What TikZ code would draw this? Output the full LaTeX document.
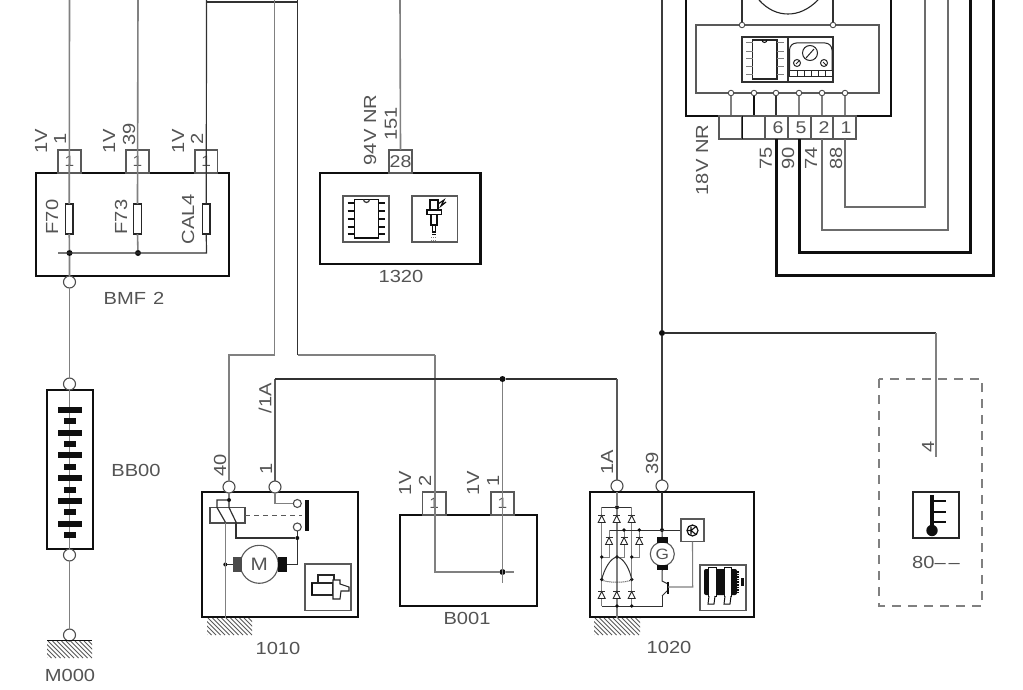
\documentclass[tikz,border=0pt]{standalone}
\usepackage{fontspec}
\setmainfont[FakeStretch=1.15]{Liberation Sans}
\definecolor{ink}{gray}{0.06}
\definecolor{wire}{gray}{0.5}
\definecolor{txt}{gray}{0.33}
\tikzset{
  frame/.style={draw=ink,line width=2.4pt,inner sep=0pt,outer sep=0pt},
  subbox/.style={draw=wire!70!black,line width=1.1pt,inner sep=0pt,outer sep=0pt},
  pinbox/.style={draw=wire!70!black,fill=white,line width=1.1pt,inner sep=0pt,outer sep=0pt,text=txt,font=\fontsize{15}{15}\selectfont},
  terminal/.style={circle,draw=wire!60!black,fill=white,line width=1.1pt,minimum size=12pt,inner sep=0pt,outer sep=0pt},
  tiny/.style={circle,draw=wire!60!black,fill=white,line width=.9pt,minimum size=5.5pt,inner sep=0pt,outer sep=0pt},
  contact/.style={circle,draw=wire!60!black,fill=white,line width=1.1pt,minimum size=8pt,inner sep=0pt,outer sep=0pt},
  graywire/.style={draw=wire,line width=1.6pt},
  blackwire/.style={draw=ink!70!wire,line width=1.2pt},
  heavywire/.style={draw=ink,line width=3pt},
  solder/.style={circle,fill=ink,inner sep=0pt,minimum size=#1,outer sep=0pt},
  solder/.default=6pt,
  lbl/.style={text=txt,inner sep=0pt,font=\fontsize{17.5}{18}\selectfont},
  vlbl/.style={lbl,rotate=90},
  hatching/.style={draw=wire!70!black,line width=1pt},
  solidpart/.style={fill=ink,draw=none,inner sep=0pt,outer sep=0pt},
  diode/.style={draw=ink!80!wire,line width=.9pt,fill=white},
}
\newcommand{\bx}[6]{\node[#6,minimum width={(#4-#2)*1pt},minimum height={(#5-#3)*1pt}] (#1) at ({(#2+#4)/2},{(#3+#5)/2}) {};}
\newcommand{\pinb}[6]{\node[pinbox,minimum width={(#4-#2)*1pt},minimum height={(#5-#3)*1pt}] (#1) at ({(#2+#4)/2},{(#3+#5)/2}) {#6};}
\newcommand{\dio}[2]{\draw[diode] (#1-3.5,#2+3.5) -- (#1+3.5,#2+3.5) -- (#1,#2-3.5) -- cycle; \draw[blackwire,line width=.9pt] (#1-3.5,#2-3.5) -- (#1+3.5,#2-3.5);}
% hatch: left edge, right edge, top
\newcommand{\hatchrow}[3]{\begin{scope}\clip (#1,#3) rectangle (#2,#3+17);\foreach \i in {0,4.5,...,72}{\draw[hatching] (#1-17+\i,#3) -- (#1+\i,#3+17);}\end{scope}}
\begin{document}
\begin{tikzpicture}[x=1pt,y=-1pt]
\useasboundingbox[fill=white] (0,0) rectangle (1023,690);

% free ends at the top edge
\foreach \n/\x in {t1/69.5,t2/138,t3/206.5,t4/274.5,t5/297.7,t6/400,t7/662,t8/924.7,t9/947.7,t10/970,t11/993,t12/686,t13/891,t14/742,t15/833}{\coordinate (\n) at (\x,0);}

% === BMF 2
\bx{bmf}{36}{173}{229}{276}{frame}
\pinb{bp1}{58}{150}{81}{173}{1}
\pinb{bp2}{126}{150}{149}{173}{1}
\pinb{bp3}{195}{150}{217.5}{173}{1}
\bx{f70}{65.5}{204}{73}{234}{subbox,draw=ink!80!wire,fill=white}
\bx{f73}{133.5}{204}{141.5}{234}{subbox,draw=ink!80!wire,fill=white}
\bx{cal}{202.5}{204}{210}{234}{subbox,draw=ink!80!wire,fill=white}
\node[solder] (d1) at (69.5,253) {};
\node[solder] (d2) at (138,253) {};
\coordinate (d0) at (58,253);
\coordinate (d3) at (206.5,253);
\node[terminal] (bmfout) at (69.5,282) {};
\draw[graywire] (t1) -- (f70.north);
\draw[graywire] (f70.south) -- (d1) -- (bmfout);
\draw[graywire] (t2) -- (f73.north);
\draw[graywire] (f73.south) -- (d2);
\draw[blackwire] (t3) -- (cal.north);
\draw[blackwire] (cal.south) -- (d3) -- (d0);
\coordinate (c1) at (206.5,2);
\coordinate (c2) at (297.7,2);
\draw[blackwire] (c1) -- (c2) -- (t5);

% === BB00
\bx{bb}{47}{389.5}{93}{549}{frame,line width=2pt}
\node[terminal] (bbt) at (69.5,384) {};
\node[terminal] (bbb) at (69.5,555) {};
\draw[graywire] (bmfout) -- (bbt);
\draw[graywire] (bbt) -- (bbb);
\foreach \yy in {410,433,455,478,501,524}{\node[solidpart,minimum width=24pt,minimum height=6.5pt] at (69.5,\yy) {};}
\foreach \yy in {421,444,467,490,512,535}{\node[solidpart,minimum width=12pt,minimum height=6.5pt] at (69.5,\yy) {};}

% === M000
\node[terminal] (gnd) at (69.5,635) {};
\coordinate (g1) at (47,640.5);
\coordinate (g2) at (92,640.5);
\draw[graywire] (bbb) -- (gnd);
\draw[draw=ink,line width=1.1pt] (g1) -- (g2);
\hatchrow{47}{92}{641}

% === 1320
\bx{ecu}{320}{173}{480.5}{264}{frame}
\pinb{ep}{389}{150}{412}{173}{}
\node[lbl,font=\fontsize{17}{17}\selectfont] (ep28) at (400.5,162) {28};
\draw[graywire] (t6) -- (ep.north);
\bx{ic1}{343}{196}{389}{242}{subbox}
\bx{ic2}{412}{196}{457.5}{242}{subbox}
\bx{chipa}{354.5}{199.5}{378.5}{238}{frame,line width=1.9pt}
\foreach \yy in {203,211,219,227,234}{
  \draw[draw=ink,line width=1.9pt] (347.5,\yy) -- (354.5,\yy) (378.5,\yy) -- (385,\yy);}
\draw[blackwire] (363.5,199.5) arc[start angle=180,end angle=360,radius=3pt];
% injector
\draw[draw=ink,line width=1.4pt,fill=white] (430,200) rectangle (438,210);
\draw[draw=ink,line width=1.4pt,fill=white] (427,210) rectangle (441.5,214.5);
\draw[draw=ink,line width=1.4pt,fill=white] (431,214.5) rectangle (437,225);
\draw[draw=ink,line width=1.4pt,fill=white] (432.5,225) rectangle (435.5,232);
\draw[draw=ink,line width=1.2pt] (438,204) -- (444,200) -- (441,206) -- (446,202);
\draw[draw=wire,line width=1pt,densely dotted] (431,237) -- (437,237) (431,240) -- (437,240);
\draw[draw=ink,line width=1pt] (432,234.5) -- (436,234.5);

% === 1010
\bx{st}{202}{492}{358}{617}{frame}
\node[terminal] (s40) at (229,487) {};
\node[terminal] (s1) at (275,487) {};
\coordinate (w1) at (274.5,355);
\coordinate (w2) at (229,355);
\draw[graywire] (t4) -- (w1) -- (w2) -- (s40);
\node[solder=4pt] (rel) at (229,500) {};
\draw[graywire] (s40) -- (rel);
\bx{coil}{210}{507.5}{245}{523}{subbox,draw=wire!60!black}
\draw[blackwire] (rel) -- (217,500) -- (217,507.5) -- (225.3,522);
\draw[blackwire] (rel) -- (229,507.5) -- (236,522);
\node[contact] (c_a) at (297.3,503.5) {};
\node[contact] (c_b) at (297.3,527) {};
\node[solder=4pt] (rj) at (297.3,538) {};
\coordinate (rk) at (236,538);
\draw[blackwire] (236,522) -- (rk) -- (rj);
\draw[blackwire] (rj) -- (c_b);
\coordinate (sa) at (275,503.5);
\draw[graywire,line width=1.3pt] (s1) -- (sa) -- (c_a);
\node[solidpart,minimum width=4.5pt,minimum height=31pt] (bar) at (307,515.5) {};
\draw[dash pattern=on 5pt off 4pt,line width=1pt,draw=wire!70!black] (245,515) -- (302,515);
\node[circle,draw=wire!70!black,fill=white,line width=1.1pt,minimum size=38pt,inner sep=0pt] (mot) at (259.3,564.3) {\fontsize{18}{18}\selectfont\textcolor{txt}{M}};
\bx{brl}{232.7}{556.7}{241.7}{572.3}{solidpart,fill=ink!75!white}
\bx{brr}{277.5}{556.7}{287}{572.3}{solidpart}
\coordinate (rm) at (297.3,564.5);
\draw[blackwire] (rj) -- (rm) -- (brr.east);
\node[solder=4pt] (lj) at (225.3,564.5) {};
\draw[blackwire] (lj) -- (brl.west);
\coordinate (stg) at (225.3,618);
\coordinate (sth) at (225.3,523);
\draw[graywire] (sth) -- (stg);
\hatchrow{207}{252}{618}
\bx{ic3}{305}{564}{351}{610.5}{subbox}
% starter icon
\draw[draw=ink!80!wire,line width=1.1pt,fill=white] (318,583) -- (318,575) -- (334,575) -- (334,583);
\draw[draw=ink!80!wire,line width=1.1pt,fill=white] (312,583) rectangle (333,595);
\draw[draw=ink,line width=2pt] (312,583) -- (312,595);
\draw[draw=ink!80!wire,line width=1.1pt,fill=white] (333,580) -- (340,580) -- (340,584) -- (349,587) -- (349,591) -- (341,591) -- (340,599) -- (333,599) -- cycle;

% === B001
\bx{bat}{400}{515}{537}{606}{frame}
\pinb{bt1}{422.5}{492}{446}{515}{1}
\pinb{bt2}{491}{492}{514}{515}{1}
\coordinate (w3) at (297.7,355);
\coordinate (w4) at (435,355);
\coordinate (w5) at (435,572);
\node[solder] (bj) at (502.5,572) {};
\coordinate (be) at (514,572);
\coordinate (bd) at (502.5,583);
\draw[blackwire] (t5) -- (w3);
\draw[blackwire,draw=wire] (w3) -- (w4);
\draw[graywire] (w4) -- (w5) -- (bj) -- (be);
\node[solder=6pt] (tj) at (502.5,379) {};
\draw[graywire] (tj) -- (bd);

% === bus 1A
\node[terminal] (a1) at (617,486) {};
\node[terminal] (a39) at (662,486) {};
\coordinate (q1) at (275,379);
\coordinate (q2) at (617,379);
\draw[blackwire,draw=wire!70!black,line width=1.4pt] (s1) -- (q1);
\draw[blackwire] (q1) -- (tj) -- (q2);
\draw[blackwire,draw=wire!70!black,line width=1.4pt] (q2) -- (a1);

% === 1020
\bx{alt}{590}{492}{754}{617}{frame}
\node[solder=6pt] (nb) at (662,333) {};
\coordinate (n1) at (936,333);
\coordinate (n2) at (936,457);
\draw[blackwire,draw=ink!60!wire] (t7) -- (nb) -- (a39);
\draw[blackwire] (nb) -- (n1);
\draw[graywire,line width=1.4pt] (n1) -- (n2);
\node[solder=4pt] (m0) at (617,507.3) {};
\node[solder=4pt] (m1) at (662,530) {};
\draw[blackwire] (a39) -- (m1);
\draw[graywire,line width=1.4pt] (a1) -- (m0) -- (617,618);
\draw[blackwire,line width=1pt] (601.7,507.3) -- (631.7,507.3);
\draw[graywire,line width=1pt] (601.7,507.3) -- (601.7,606) (631.7,507.3) -- (631.7,606);
\draw[blackwire,line width=1pt] (601.7,606) -- (662,606) -- (662,596);
\draw[blackwire,line width=1pt] (609,530) -- (681,530);
\draw[graywire,line width=1pt] (609,530) -- (609,557) -- (601.7,557) (624,530) -- (624,557) -- (617,557) (639.3,530) -- (639.3,557) -- (631.7,557);
\foreach \px/\py in {601.7/557,617/557,631.7/557,601.7/579.5,631.7/579.5,624/530,639.3/530,617/606,631.7/606}{\fill[ink] (\px,\py) circle (1.9pt);}
\foreach \px in {601.7,616.7,631.7}{\dio{\px}{519}\dio{\px}{595}}
\foreach \px in {609,624,639.3}{\dio{\px}{541}}
\draw[blackwire,line width=1pt] (601.7,579.5) .. controls (604,570) and (610,558) .. (617,557) .. controls (624,558) and (630,570) .. (631.7,579.5);
\draw[blackwire,line width=1pt,densely dotted] (601.7,580) .. controls (608,583) and (625,583) .. (631.7,580);
\node[circle,draw=wire!70!black,fill=white,line width=1.1pt,minimum size=24pt,inner sep=0pt] (gen) at (662.3,554) {\fontsize{15}{15}\selectfont\textcolor{txt}{G}};
\bx{bg1}{657}{537}{667.5}{542.5}{solidpart}
\bx{bg2}{657}{565}{667.5}{570}{solidpart}
\draw[blackwire,line width=1pt] (m1) -- (bg1.north);
\coordinate (tc) at (662,581);
\coordinate (te) at (662,596);
\draw[blackwire,line width=1pt] (bg2.south) -- (tc) -- (668,584);
\draw[blackwire,line width=1pt] (668,590) -- (te);
\draw[draw=ink,line width=1.6pt] (668,581.5) -- (668,594);
\bx{kbx}{681}{519}{704}{541.7}{subbox}
\node[circle,draw=ink,line width=1.2pt,minimum size=11pt,inner sep=0pt] (kc) at (692.5,530.5) {};
\draw[draw=ink,line width=1.1pt] (691,526.5) -- (691,534.5) (696,526.5) -- (691,530.5) -- (696,534.5) (688,530.5) -- (691,530.5);
\coordinate (kb) at (692.7,587);
\draw[graywire,line width=1.1pt] (kbx.south) -- (kb) -- (668,587);
\hatchrow{594}{640}{618}
\bx{ic4}{700}{565}{746}{610.5}{subbox}
% alternator icon
\fill[ink,rounded corners=2pt] (704,569) rectangle (737,595);
\draw[draw=ink,line width=1pt,fill=white] (708.5,567.5) rectangle (716,596);
\draw[draw=ink,line width=1pt,fill=white] (724,567.5) rectangle (731.5,596);
\draw[draw=ink,line width=1pt,fill=white] (709,596) -- (708,604) -- (714,604) -- (715,596);
\draw[draw=ink,line width=1pt,fill=white] (725,596) -- (724,604) -- (730,604) -- (731,596);
\draw[draw=ink,line width=1.6pt,densely dotted] (738,571) -- (738,594);
\fill[ink] (741,578) rectangle (743.5,586);

% === module, upper right
\draw[draw=ink,line width=2.6pt] (t12) -- (686,116) -- (891,116) -- (t13);
\draw[draw=ink!80!wire,line width=1.1pt] (759,0) .. controls (768,10) and (778,14) .. (788,14) .. controls (798,14) and (808,10) .. (818,0);
\bx{inner}{696}{25}{879}{93}{subbox}
\node[tiny] (u1) at (742,25) {};
\node[tiny] (u2) at (833,25) {};
\draw[blackwire] (t14) -- (u1);
\draw[blackwire] (t15) -- (u2);
\bx{ic5}{742}{37}{833}{82}{subbox,draw=ink!70!wire}
\draw[subbox,draw=ink!70!wire] (788,37) -- (788,82);
\bx{chipb}{752.5}{40}{777}{79}{subbox,draw=ink!80!wire}
\foreach \yy in {43,52,59,67,75}{\draw[draw=wire,line width=1pt] (746,\yy) -- (752.5,\yy) (777,\yy) -- (784,\yy);}
\draw[draw=ink,line width=1pt] (762,40) arc[start angle=180,end angle=360,radius=2.5pt];
\draw[draw=ink!80!wire,line width=1pt,rounded corners=7pt] (789.5,71) -- (789.5,43) -- (832,43) -- (832,71);
\draw[draw=ink!80!wire,line width=1pt] (789.5,71) rectangle (832,77);
\foreach \px in {797,804,811,818,825}{\draw[draw=ink!80!wire,line width=.9pt] (\px,71) -- (\px,77);}
\node[circle,draw=ink!80!wire,line width=1pt,minimum size=15pt,inner sep=0pt] (g0) at (810,53) {};
\node[circle,draw=ink!80!wire,line width=1pt,minimum size=7pt,inner sep=0pt] (g3) at (797,63) {};
\node[circle,draw=ink!80!wire,line width=1pt,minimum size=7pt,inner sep=0pt] (g4) at (824,63) {};
\draw[draw=ink!80!wire,line width=1pt] (806,58) -- (814,49) (796,64) -- (799,61) (826,65) -- (823,62);

\foreach \n/\x/\w in {1/731/wire,2/754/ink,3/776/ink!70!wire,4/799/wire,5/822/wire,6/845/wire}{
  \node[tiny] (b\n) at (\x,93) {};
  \coordinate (bb\n) at (\x,116);
  \draw[draw=\w,line width=1.2pt] (b\n) -- (bb\n);
}
\pinb{k0}{719}{116}{742}{139}{}
\pinb{k1}{742}{116}{765}{139}{}
\pinb{k6}{765}{116}{788}{139}{}
\pinb{k5}{788}{116}{811}{139}{}
\pinb{k2}{811}{116}{833}{139}{}
\pinb{k4}{833}{116}{856}{139}{}
\node[lbl,font=\fontsize{17}{17}\selectfont] (n6) at (778,128) {6};
\node[lbl,font=\fontsize{17}{17}\selectfont] (n5) at (801,128) {5};
\node[lbl,font=\fontsize{17}{17}\selectfont] (n2) at (824,128) {2};
\node[lbl,font=\fontsize{17}{17}\selectfont] (n1x) at (846,128) {1};
\draw[draw=ink,line width=1pt] (k0.north east) -- (k0.south east);

\coordinate (r1a) at (845,139);\coordinate (r1b) at (845,207);\coordinate (r1c) at (924.7,207);
\coordinate (r2a) at (822,139);\coordinate (r2b) at (822,230);\coordinate (r2c) at (947.7,230);
\coordinate (r3a) at (776,139);\coordinate (r3b) at (776,275);\coordinate (r3c) at (993,275);
\coordinate (r4a) at (799,139);\coordinate (r4b) at (799,252.7);\coordinate (r4c) at (970,252.7);
\draw[graywire,draw=wire!85!black] (r1a) -- (r1b) -- (r1c) -- (t8);
\draw[graywire,draw=wire!85!black] (r2a) -- (r2b) -- (r2c) -- (t9);
\draw[heavywire,line join=miter] (r4a) -- (r4b) -- (r4c) -- (t10);
\draw[heavywire,line join=miter] (r3a) -- (r3b) -- (r3c) -- (t11);

% === sensor 80--
\coordinate (da) at (879,379);
\coordinate (db) at (982,606);
\draw[draw=wire,line width=1.5pt,dash pattern=on 9pt off 7pt] (da) rectangle (db);
\bx{ic6}{913}{492}{959}{538}{subbox,draw=ink!80!wire}
\draw[draw=ink,line width=4pt] (932,495) -- (932,530);
\fill[ink] (932,530.5) circle (5.7pt);
\foreach \yy in {501,512,522}{\draw[draw=ink,line width=2.5pt] (932,\yy) -- (946,\yy);}

% === texts
\node[lbl] (l1) at (134,298) {BMF\hspace{7pt}2};
\node[lbl] (l2) at (136,470) {BB00};
\node[lbl] (l3) at (70,675) {M000};
\node[lbl] (l4) at (401,276) {1320};
\node[lbl] (l5) at (278,648) {1010};
\node[lbl] (l6) at (467,618) {B001};
\node[lbl] (l7) at (669,647) {1020};
\node[lbl] (l8) at (936,562) {80--\,--};
\node[vlbl] (v1) at (41,141) {1V};
\node[vlbl] (v2) at (60,139) {1};
\node[vlbl] (v3) at (109,141) {1V};
\node[vlbl] (v4) at (129,134) {39};
\node[vlbl] (v5) at (178,141) {1V};
\node[vlbl] (v6) at (197,139) {2};
\node[vlbl] (v7) at (52,217) {F70};
\node[vlbl] (v8) at (121,217) {F73};
\node[vlbl] (v9) at (188,219) {CAL4};
\node[vlbl] (v10) at (370,130) {94V NR};
\node[vlbl] (v11) at (391,124) {151};
\node[vlbl] (v12) at (702,160) {18V NR};
\node[vlbl] (v13) at (766,158) {75};
\node[vlbl] (v14) at (788,158) {90};
\node[vlbl] (v15) at (811,158) {74};
\node[vlbl] (v16) at (836,158) {88};
\node[vlbl] (v17) at (220,465) {40};
\node[vlbl] (v18) at (266,469) {1};
\node[vlbl] (v19) at (265,398) {/1A};
\node[vlbl] (v20) at (405,483) {1V};
\node[vlbl] (v21) at (425,481) {2};
\node[vlbl] (v22) at (473,483) {1V};
\node[vlbl] (v23) at (493,481) {1};
\node[vlbl] (v24) at (607,462) {1A};
\node[vlbl] (v25) at (652,463) {39};
\node[vlbl] (v26) at (928,447) {4};
\end{tikzpicture}
\end{document}
